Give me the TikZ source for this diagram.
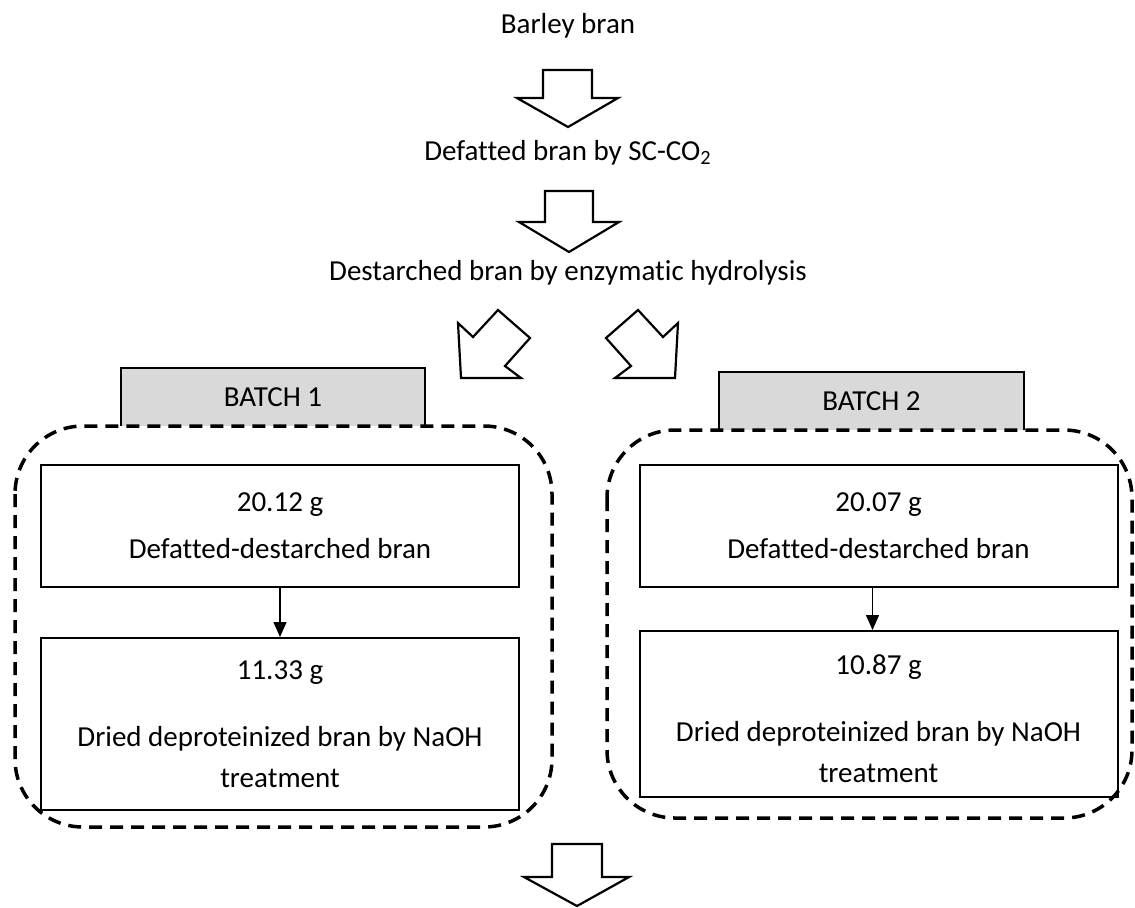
\documentclass[tikz,border=0pt]{standalone}
\usepackage{fontspec}
\setmainfont{Carlito}[Ligatures=NoCommon]
\usetikzlibrary{arrows.meta}

\begin{document}
\begin{tikzpicture}
        [x=0.5pt,y=-0.5pt,
        every node/.style={font=\fontsize{14.5}{20.5}\selectfont},
        title/.style={anchor=base,inner sep=0pt},
        batchtab/.style={fill=black!15,minimum width=152pt,minimum height=29pt,inner sep=0pt},
        tabline/.style={line width=1pt},
        batchline/.style={line width=1.75pt,dash pattern=on 6.5pt off 4pt,rounded corners=34pt},
        stepbox/.style={draw,line width=1pt,align=center,minimum width=239pt,inner sep=0pt},
        flow/.style={-{Triangle[length=7.5pt,width=6.5pt]},line width=0.75pt},
        bigarrow/.style={draw,line width=1.1pt,fill=white,line join=miter}]
        \useasboundingbox (0,0) rectangle (1135,907);

        \node[title] (barley) at (568,33) {Barley bran};
        \node[title] (defatted) at (568,160) {Defatted bran by SC-CO\textsubscript{2}};
        \node[title] (destarched) at (568,280) {Destarched bran by enzymatic hydrolysis};

        \draw[bigarrow] (543,70) -- (592,70) -- (592,98) -- (618,98) -- (568,127) -- (517,98) -- (543,98) -- cycle;
        \draw[bigarrow] (545,191) -- (593,191) -- (593,222) -- (619,222) -- (569,252) -- (519,222) -- (545,222) -- cycle;
        \draw[bigarrow] (461,378) -- (458,323) -- (473,337) -- (498,310) -- (530,338) -- (505,366) -- (521,378) -- cycle;
        \draw[bigarrow] (675,378) -- (678,323) -- (663,337) -- (638,310) -- (606,338) -- (631,366) -- (615,378) -- cycle;
        \draw[bigarrow] (552,844) -- (602,844) -- (602,877) -- (629,877) -- (577,906) -- (524,877) -- (552,877) -- cycle;

        \node[batchtab] (tab1) at (273,397) {BATCH 1};
        \node[batchtab] (tab2) at (871.5,401) {BATCH 2};
        \draw[tabline] (tab1.south west) -- (tab1.north west) -- (tab1.north east) -- (tab1.south east);
        \draw[tabline] (tab2.south west) -- (tab2.north west) -- (tab2.north east) -- (tab2.south east);

        \draw[batchline] (15,426) rectangle (552,827);
        \draw[batchline] (607,430) rectangle (1132,818);

        \node[stepbox,minimum height=61pt] (b1top) at (280,526) {20.12 g\\[3pt]Defatted-destarched bran};
        \node[stepbox,minimum height=86pt] (b1bot) at (280,724) {11.33 g\\[13pt]Dried deproteinized bran by NaOH\\treatment};
        \node[stepbox,minimum height=61pt] (b2top) at (878.5,526) {20.07 g\\[3pt]Defatted-destarched bran};
        \node[stepbox,minimum height=83pt] (b2bot) at (878.5,714) {\rule{0pt}{15pt}10.87 g\\[13pt]Dried deproteinized bran by NaOH\\treatment};

        \draw[flow] (b1top.south) -- (b1bot.north);
        \draw[flow] ([xshift=-3pt]b2top.south) -- ([xshift=-3pt]b2bot.north);
\end{tikzpicture}
\end{document}
